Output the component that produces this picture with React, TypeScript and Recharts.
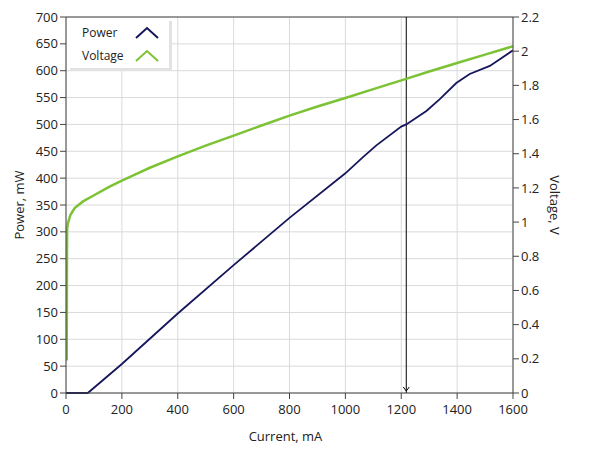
import React from 'react';
import { LineChart, Line, XAxis, YAxis, CartesianGrid, ReferenceLine, Label } from 'recharts';

// Power curve
const powerCurrent = [0, 40, 78, 200, 400, 600, 800, 1000, 1063, 1111, 1200, 1218, 1290, 1338, 1397, 1445, 1517, 1600];
const powerValues = [0, 0, 0, 54, 148, 238, 326, 409, 439, 461, 496, 500, 525, 547, 577, 594, 609, 638];

// Voltage curve
const voltageCurrent = [2.5, 3, 3.5, 4, 7, 16, 31, 61, 97, 156, 200, 264, 300, 400, 500, 600, 700, 800, 900, 1000, 1100, 1200, 1300, 1400, 1500, 1600];
const voltageValues = [0.19, 0.5, 0.8, 0.96, 0.994, 1.043, 1.082, 1.121, 1.154, 1.207, 1.243, 1.291, 1.318, 1.385, 1.447, 1.506, 1.565, 1.623, 1.676, 1.726, 1.778, 1.829, 1.881, 1.931, 1.98, 2.029];

const currentTicks = [0, 200, 400, 600, 800, 1000, 1200, 1400, 1600];
const powerTicks = [0, 50, 100, 150, 200, 250, 300, 350, 400, 450, 500, 550, 600, 650, 700];
const voltageTicks = [0, 0.2, 0.4, 0.6, 0.8, 1, 1.2, 1.4, 1.6, 1.8, 2, 2.2];
const cursorCurrent = 1218;

const powerData = powerCurrent.map((c, i) => ({ current: c, power: powerValues[i] }));
const voltageData = voltageCurrent.map((c, i) => ({ current: c, voltage: voltageValues[i] }));

const FONT = '"Open Sans", "Noto Sans", sans-serif';
const POWER_COLOR = '#16165c';
const VOLTAGE_COLOR = '#7cc235';
const AXIS_COLOR = '#444';
const tickStyle = { fontSize: 13, fill: '#222', fontFamily: FONT };
const labelStyle = { fontSize: 13, fill: '#222', fontFamily: FONT };

const CursorArrow = (props: any) => {
  const vb = props.viewBox;
  if (!vb) return null;
  const x = vb.x;
  const y = vb.y + vb.height;
  return <path d={`M${x - 3},${y - 6} L${x},${y - 2} L${x + 3},${y - 6}`} fill="none" stroke="#000" strokeWidth={1} />;
};

const Chevron = ({ color }: { color: string }) => (
  <svg width={24} height={13} style={{ display: 'block' }}>
    <path d="M1,12 L12,2 L23,12" fill="none" stroke={color} strokeWidth={2} />
  </svg>
);

const LegendBox = () => {
  const rows = [
    { name: 'Power', color: POWER_COLOR },
    { name: 'Voltage', color: VOLTAGE_COLOR },
  ];
  return (
    <div
      style={{
        position: 'absolute',
        left: 67,
        top: 18,
        width: 102,
        height: 50,
        background: '#fff',
        boxShadow: '3px 3px 0 #e2e2e2',
        fontFamily: FONT,
        fontSize: 12,
        color: '#222',
      }}
    >
      {rows.map((r, i) => (
        <div key={r.name} style={{ position: 'absolute', left: 15, top: 5 + i * 23, height: 18, width: 82, display: 'flex', alignItems: 'center' }}>
          <span style={{ width: 53 }}>{r.name}</span>
          <Chevron color={r.color} />
        </div>
      ))}
    </div>
  );
};

export default function App() {
  return (
    <div style={{ position: 'absolute', left: 0, top: 0, width: 589, height: 456, background: '#fff' }}>
      <LineChart width={589} height={456} margin={{ top: 17, right: 0, bottom: 0, left: 0 }}>
        <CartesianGrid yAxisId="left" stroke="#dadada" strokeWidth={1} />
        <XAxis
          type="number"
          dataKey="current"
          domain={[0, 1600]}
          ticks={currentTicks}
          allowDataOverflow
          height={63}
          tick={tickStyle}
          tickSize={6}
          tickMargin={6}
          stroke={AXIS_COLOR}
          tickLine={{ stroke: AXIS_COLOR }}
        >
          <Label value="Current, mA" position="center" dx={-4} dy={12} style={labelStyle} />
        </XAxis>
        <YAxis
          yAxisId="left"
          orientation="left"
          domain={[0, 700]}
          ticks={powerTicks}
          width={66}
          tick={tickStyle}
          tickSize={6}
          stroke={AXIS_COLOR}
          tickLine={{ stroke: AXIS_COLOR }}
          interval={0}
        >
          <Label value="Power, mW" angle={-90} position="center" dx={-14} style={labelStyle} />
        </YAxis>
        <YAxis
          yAxisId="right"
          orientation="right"
          domain={[0, 2.2]}
          ticks={voltageTicks}
          width={76}
          tick={tickStyle}
          tickSize={6}
          stroke={AXIS_COLOR}
          tickLine={{ stroke: AXIS_COLOR }}
          interval={0}
          tickFormatter={(v: number) => String(Number(v.toFixed(1)))}
        >
          <Label value="Voltage, V" angle={90} position="center" dx={4} style={labelStyle} />
        </YAxis>
        <ReferenceLine yAxisId="left" y={700} stroke={AXIS_COLOR} />
        <ReferenceLine yAxisId="left" x={cursorCurrent} stroke="#000" strokeWidth={1} label={<CursorArrow />} />
        <Line
          yAxisId="right"
          data={voltageData}
          dataKey="voltage"
          type="linear"
          stroke={VOLTAGE_COLOR}
          strokeWidth={2.5}
          dot={false}
          activeDot={false}
          isAnimationActive={false}
        />
        <Line
          yAxisId="left"
          data={powerData}
          dataKey="power"
          type="linear"
          stroke={POWER_COLOR}
          strokeWidth={1.8}
          dot={false}
          activeDot={false}
          isAnimationActive={false}
        />
      </LineChart>
      <LegendBox />
    </div>
  );
}
